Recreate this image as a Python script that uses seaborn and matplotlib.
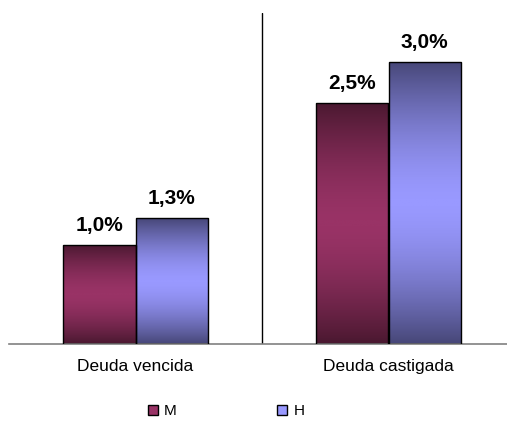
import numpy as np
import pandas as pd
import matplotlib.pyplot as plt
import seaborn as sns
from matplotlib.colors import LinearSegmentedColormap
from matplotlib.patches import Patch

categorias = ['Deuda vencida', 'Deuda castigada']
series = ['M', 'H']
valores_m = [1.04, 2.53]
valores_h = [1.32, 2.96]
colores = {'M': ('#4a1830', '#993366'), 'H': ('#474778', '#9999ff')}

df = pd.DataFrame({
    'categoria': categorias * 2,
    'serie': ['M'] * 2 + ['H'] * 2,
    'valor': valores_m + valores_h,
})

sns.set_style('white')
plt.rcParams['font.family'] = ['Liberation Sans', 'DejaVu Sans']
plt.rcParams['text.color'] = 'black'
plt.rcParams['xtick.color'] = 'black'

fig = plt.figure(figsize=(5.07, 4.21), dpi=100)
ax = fig.add_axes([9 / 507, 77 / 421, 506 / 507, 331 / 421])

sns.barplot(data=df, x='categoria', y='valor', hue='serie', order=categorias,
            hue_order=series, palette=[colores[s][1] for s in series],
            width=0.57, edgecolor='black', linewidth=1, ax=ax, legend=False)

# degradado vertical: oscuro arriba y abajo, claro al centro
grad = np.abs(np.linspace(-1, 1, 256)) ** 1.6
for container, s in zip(ax.containers, series):
    cmap = LinearSegmentedColormap.from_list(s, [colores[s][1], colores[s][0]])
    for bar in container:
        x, y = bar.get_x(), bar.get_y()
        w, h = bar.get_width(), bar.get_height()
        im = ax.imshow(grad.reshape(-1, 1), extent=[x, x + w, y, y + h], cmap=cmap,
                       aspect='auto', origin='lower', zorder=2)
        im.set_clip_path(bar)
        bar.set_facecolor('none')
        bar.set_zorder(3)
    etiquetas = [f'{v:.1f}%'.replace('.', ',') for v in container.datavalues]
    ax.bar_label(container, labels=etiquetas, padding=7, fontsize=15,
                 fontweight='bold', color='black')

ax.set_xlim(-0.5, 1.5)
ax.set_ylim(0, 3.47)
ax.axvline(0.5, color='black', lw=1, zorder=1)

for lado in ['top', 'right', 'left']:
    ax.spines[lado].set_visible(False)
ax.spines['bottom'].set_color('#808080')
ax.spines['bottom'].set_linewidth(1.2)

ax.set_yticks([])
ax.set_xticks([-0.5, 0.5, 1.5], minor=True)
ax.tick_params(axis='x', which='major', length=0, pad=11, labelsize=12.5, labelcolor='black')
ax.tick_params(axis='x', which='minor', length=3.5, width=1, color='#202020', direction='out')
ax.set_xlabel('')
ax.set_ylabel('')

handles = [Patch(facecolor=colores[s][1], edgecolor='black', label=s) for s in series]
fig.legend(handles=handles, loc='center', bbox_to_anchor=(226 / 507, 1 - 411 / 421),
           ncol=2, frameon=False, fontsize=11, handlelength=0.65, handleheight=0.65,
           handletextpad=0.4, columnspacing=6.6, labelcolor='black')

fig.savefig('out.png', dpi=100)
